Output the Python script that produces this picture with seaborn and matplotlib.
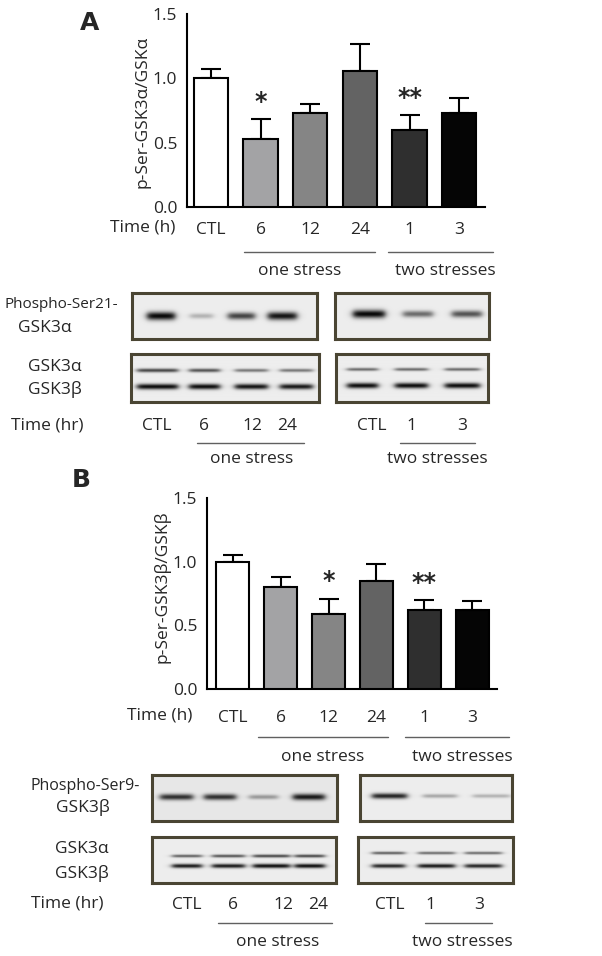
import numpy as np
import pandas as pd
import matplotlib
matplotlib.use("Agg")
import matplotlib.pyplot as plt
import seaborn as sns
from matplotlib.lines import Line2D

sns.set_style("white")
plt.rcParams['font.family'] = ['Open Sans', 'DejaVu Sans']

# ---------------- data ----------------
categories = ["CTL", "6", "12", "24", "1", "3"]
a_mean = [1.00, 0.53, 0.73, 1.06, 0.60, 0.73]
a_sem = [0.07, 0.155, 0.07, 0.21, 0.115, 0.115]
a_stars = ["", "*", "", "", "**", ""]
b_mean = [1.00, 0.80, 0.59, 0.85, 0.62, 0.62]
b_sem = [0.05, 0.08, 0.12, 0.13, 0.08, 0.07]
b_stars = ["", "", "*", "", "**", ""]
bar_colors = ["#ffffff", "#a2a2a6", "#858585", "#636363", "#2f2f2f", "#050505"]

lanes_one = ["CTL", "6", "12", "24"]
lanes_two = ["CTL", "1", "3"]
# band intensities (0 = none, 1 = black)
a_phos_one = [0.97, 0.25, 0.72, 0.92]
a_phos_two = [0.97, 0.55, 0.65]
a_totA_one = [0.70, 0.65, 0.50, 0.50]
a_totB_one = [0.95, 0.95, 0.92, 0.90]
a_totA_two = [0.55, 0.55, 0.55]
a_totB_two = [0.95, 0.95, 0.95]
b_phos_one = [0.80, 0.80, 0.35, 0.90]
b_phos_two = [0.85, 0.30, 0.25]
b_totA_one = [0.60, 0.65, 0.70, 0.70]
b_totB_one = [0.90, 0.90, 0.95, 0.95]
b_totA_two = [0.60, 0.55, 0.55]
b_totB_two = [0.85, 0.90, 0.85]

# ---------------- layout helpers ----------------
W, H = 602, 956
fig = plt.figure(figsize=(W / 100, H / 100), dpi=100)
FS = 12.5


def px_axes(x0, y0, x1, y1):
    return fig.add_axes([x0 / W, 1 - y1 / H, (x1 - x0) / W, (y1 - y0) / H])


def ftext(x, y, s, **kw):
    kw.setdefault("ha", "center")
    kw.setdefault("va", "center")
    kw.setdefault("fontsize", FS)
    fig.text(x / W, 1 - y / H, s, **kw)


def fline(x0, x1, y):
    fig.add_artist(Line2D([x0 / W, x1 / W], [1 - y / H, 1 - y / H],
                          color="#606060", lw=1.0))


def bar_panel(rect, xlim, means, sems, stars, tickpad):
    ax = px_axes(*rect)
    df = pd.DataFrame({"cat": categories, "val": means})
    sns.barplot(data=df, x="cat", y="val", hue="cat", order=categories,
                hue_order=categories, palette=bar_colors, edgecolor="black",
                linewidth=1.5, width=0.69, legend=False, ax=ax, zorder=3)
    ax.errorbar(range(len(categories)), means,
                yerr=[np.zeros(len(means)), sems], fmt="none",
                ecolor="black", elinewidth=1.5, capsize=7, capthick=1.5,
                zorder=2)
    for i, s in enumerate(stars):
        if s:
            ax.text(i, means[i] + sems[i] + 0.04, s, ha="center",
                    va="bottom", fontsize=17, fontweight="bold",
                    family=["DejaVu Sans"])
    ax.set_xlim(*xlim)
    ax.set_ylim(0, 1.5)
    ax.set_yticks([0, 0.5, 1.0, 1.5])
    ax.set_yticklabels(["0.0", "0.5", "1.0", "1.5"])
    ax.set_xlabel("")
    ax.set_ylabel("")
    sns.despine(ax=ax)
    for sp in ("left", "bottom"):
        ax.spines[sp].set_linewidth(1.5)
        ax.spines[sp].set_color("black")
    ax.tick_params(axis="both", direction="out", length=5, width=1.5,
                   labelsize=FS, color="black")
    ax.tick_params(axis="x", pad=tickpad)
    ax.tick_params(axis="y", pad=2)
    ax.set_facecolor("none")
    return ax


def blot(x0, y0, x1, y1, bands, bg=0.93):
    ax = px_axes(x0, y0, x1, y1)
    nx, ny = int((x1 - x0) * 3), int((y1 - y0) * 3)
    X, Y = np.meshgrid(np.linspace(x0, x1, nx), np.linspace(y0, y1, ny))
    dark = np.zeros_like(X)
    for a, b, yc, th, k in bands:
        xp = 1 / (1 + np.exp(-(X - a) / 1.8)) / (1 + np.exp((X - b) / 1.8))
        yp = np.exp(-((Y - yc) / (th * (0.5 + 0.5 * k))) ** 2)
        dark += k * xp * yp
    img = bg * (1 - np.clip(dark, 0, 1))
    ax.imshow(img, cmap="gray", vmin=0, vmax=1, extent=(x0, x1, y1, y0),
              aspect="auto", interpolation="bilinear")
    ax.set_xticks([])
    ax.set_yticks([])
    for sp in ax.spines.values():
        sp.set_visible(True)
        sp.set_color("#4a4533")
        sp.set_linewidth(2.2)
    return ax


def bands_for(lanes, yc, th, ints):
    return [(a, b, yc, th, k) for (a, b), k in zip(lanes, ints)]


# ---------------- panel A ----------------
ftext(90, 23, "A", fontsize=18, fontweight="bold", family=["DejaVu Sans"])
bar_panel((187, 14, 485, 207), (-0.48, 5.52), a_mean, a_sem, a_stars, 6)
ftext(142, 112, "p-Ser-GSK3α/GSKα", rotation=90)
ftext(143, 227, "Time (h)")
fline(244, 375, 252)
fline(388, 493, 252)
ftext(300, 271, "one stress")
ftext(445, 271, "two stresses")

A1 = [(147, 175), (190, 213), (228, 255), (268, 297)]
A2 = [(353, 385), (403, 433), (452, 482)]
A1t = [(137, 178), (189, 220), (235, 268), (280, 313)]
A2t = [(347, 378), (395, 428), (445, 480)]
blot(132, 293, 317, 339, bands_for(A1, 316, 4.2, a_phos_one))
blot(335, 293, 489, 339, bands_for(A2, 314, 4.2, a_phos_two))
blot(131, 354, 319, 402, bands_for(A1t, 371, 2.2, a_totA_one)
     + bands_for(A1t, 387, 2.8, a_totB_one))
blot(336, 354, 488, 402, bands_for(A2t, 370, 2.0, a_totA_two)
     + bands_for(A2t, 386, 2.8, a_totB_two))

ftext(5, 305, "Phospho-Ser21-", ha="left", fontsize=11)
ftext(45, 328, "GSK3α")
ftext(55, 367, "GSK3α")
ftext(55, 390, "GSK3β")
ftext(47, 426, "Time (hr)")
for x, s in zip([157, 204, 252, 287], lanes_one):
    ftext(x, 426, s)
for x, s in zip([372, 411, 462], lanes_two):
    ftext(x, 426, s)
fline(197, 304, 443)
fline(400, 475, 443)
ftext(252, 459, "one stress")
ftext(437, 459, "two stresses")

# ---------------- panel B ----------------
ftext(81, 480, "B", fontsize=18, fontweight="bold", family=["DejaVu Sans"])
bar_panel((207, 498, 497, 689), (-0.54, 5.52), b_mean, b_sem, b_stars, 10)
ftext(162, 587, "p-Ser-GSK3β/GSKβ", rotation=90)
ftext(160, 715, "Time (h)")
fline(258, 388, 737)
fline(405, 509, 737)
ftext(323, 757, "one stress")
ftext(462, 757, "two stresses")

B1 = [(160, 193), (204, 236), (249, 278), (293, 325)]
B2 = [(372, 407), (423, 457), (473, 510)]
B1t = [(172, 202), (212, 245), (253, 290), (295, 325)]
B2t = [(372, 405), (418, 455), (465, 502)]
blot(152, 775, 337, 821, bands_for(B1, 797, 3.4, b_phos_one), bg=0.91)
blot(360, 775, 512, 821, bands_for(B2, 796, 3.0, b_phos_two))
blot(152, 837, 336, 883, bands_for(B1t, 856, 1.8, b_totA_one)
     + bands_for(B1t, 866, 2.2, b_totB_one))
blot(358, 837, 513, 883, bands_for(B2t, 853, 1.8, b_totA_two)
     + bands_for(B2t, 866, 2.2, b_totB_two))

ftext(85, 786, "Phospho-Ser9-", fontsize=11.5)
ftext(83, 807, "GSK3β")
ftext(82, 849, "GSK3α")
ftext(82, 874, "GSK3β")
ftext(67, 903, "Time (hr)")
for x, s in zip([187, 233, 283, 318], lanes_one):
    ftext(x, 905, s)
for x, s in zip([390, 430, 479], lanes_two):
    ftext(x, 905, s)
fline(218, 332, 923)
fline(425, 492, 923)
ftext(278, 942, "one stress")
ftext(462, 942, "two stresses")

fig.savefig("out.png", dpi=100, facecolor="white")
